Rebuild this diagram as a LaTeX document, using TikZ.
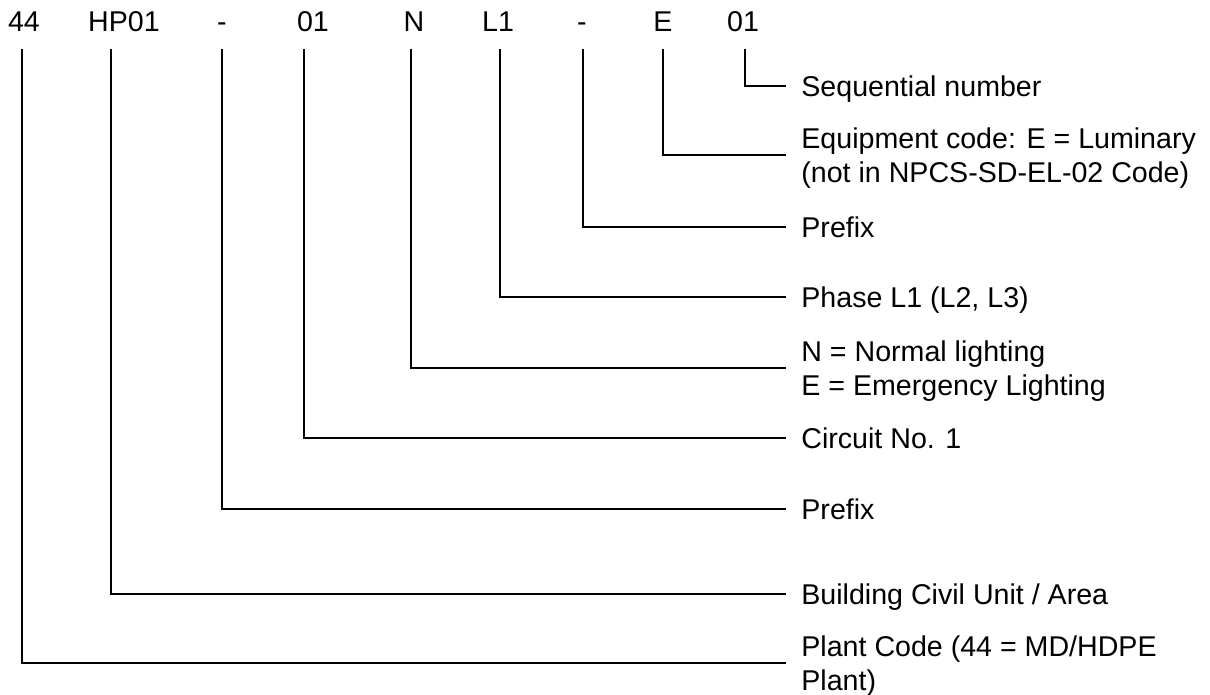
\documentclass[tikz,border=0pt]{standalone}
\usepackage{fontspec}
\setmainfont{Liberation Sans}

\begin{document}
\begin{tikzpicture}[x=0.5pt, y=-0.5pt,
    code/.style={anchor=base, inner sep=0pt, font=\fontsize{14.3}{17}\selectfont},
    lbl/.style={anchor=west, inner xsep=7.5pt, inner ysep=0pt, text depth=0pt,
      align=left, font=\fontsize{14.3}{17}\selectfont},
    lead/.style={line width=1pt}]

  \useasboundingbox (0,0) rectangle (1210,695);

  % the code, one part per node
  \node[code] (plant) at (24,32) {44};
  \node[code] (unit)  at (124,32) {HP01};
  \node[code] (dasha) at (222,32) {-};
  \node[code] (circ)  at (313,32) {01};
  \node[code] (kind)  at (414,32) {N};
  \node[code] (phase) at (498,32) {L1};
  \node[code] (dashb) at (582,32) {-};
  \node[code] (equip) at (663,32) {E};
  \node[code] (seq)   at (743,32) {01};

  % top ends of the leader lines
  \coordinate (vplant) at (22,49);
  \coordinate (vunit)  at (111,49);
  \coordinate (vdasha) at (222,49);
  \coordinate (vcirc)  at (304,49);
  \coordinate (vkind)  at (411,49);
  \coordinate (vphase) at (500,49);
  \coordinate (vdashb) at (583,49);
  \coordinate (vequip) at (663,49);
  \coordinate (vseq)   at (745,49);

  % meanings
  \node[lbl] (lseq)   at (786,86)  {Sequential number};
  \node[lbl] (lequip) at (786,155) {Equipment code: E = Luminary\\(not in NPCS-SD-EL-02 Code)};
  \node[lbl] (ldashb) at (786,227) {Prefix};
  \node[lbl] (lphase) at (786,297) {Phase L1 (L2, L3)};
  \node[lbl] (lkind)  at (786,368) {N = Normal lighting\\E = Emergency Lighting};
  \node[lbl] (lcirc)  at (786,438) {Circuit No. 1};
  \node[lbl] (ldasha) at (786,509) {Prefix};
  \node[lbl] (lunit)  at (786,594) {Building Civil Unit / Area};
  \node[lbl] (lplant) at (786,663) {Plant Code (44 = MD/HDPE\\Plant)};

  \draw[lead] (vseq) |- (lseq.west);
  \draw[lead] (vequip) |- (lequip.west);
  \draw[lead] (vdashb) |- (ldashb.west);
  \draw[lead] (vphase) |- (lphase.west);
  \draw[lead] (vkind) |- (lkind.west);
  \draw[lead] (vcirc) |- (lcirc.west);
  \draw[lead] (vdasha) |- (ldasha.west);
  \draw[lead] (vunit) |- (lunit.west);
  \draw[lead] (vplant) |- (lplant.west);
\end{tikzpicture}
\end{document}
